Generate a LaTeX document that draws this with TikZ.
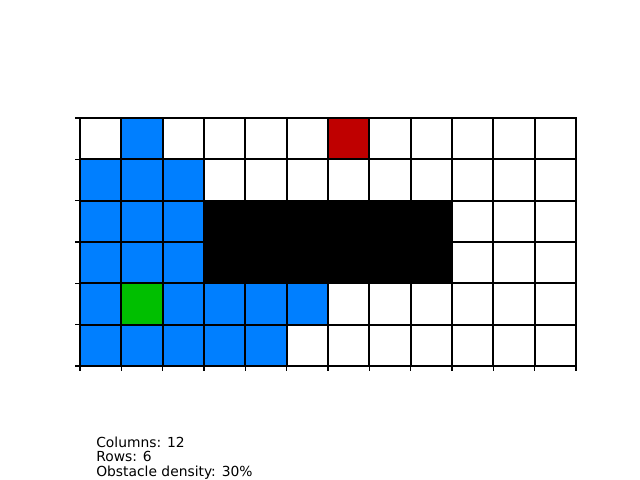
\documentclass[tikz,border=0pt]{standalone}
\usepackage{fontspec}
\setmainfont{DejaVu Sans}
\usetikzlibrary{positioning}

\definecolor{freeblue}{RGB}{0,127,255}
\definecolor{startgreen}{RGB}{0,191,0}
\definecolor{goalred}{RGB}{191,0,0}

\begin{document}
\begin{tikzpicture}[
    x=0.01in, y=-0.01in,
    cell/.style={draw, line width=1.3pt, minimum size=0.41333in, inner sep=0pt, outer sep=0pt},
    tick/.style={line width=0.8pt},
    info/.style={anchor=north west, align=left, inner sep=0pt, font=\fontsize{10}{10.6}\selectfont}
]
    \useasboundingbox (0,0) rectangle (640,480);
    % coloured cells first, grid lines over them
    \foreach \r/\c in {0/1,1/0,1/1,1/2,2/0,2/1,2/2,3/0,3/1,3/2,4/0,4/2,4/3,4/4,4/5,5/0,5/1,5/2,5/3,5/4} {
        \fill[freeblue] (80+41.333*\c,118+41.333*\r) rectangle ++(41.333,41.333);
    }
    \foreach \r in {2,3} {
        \foreach \c in {3,...,8} {
            \fill[black] (80+41.333*\c,118+41.333*\r) rectangle ++(41.333,41.333);
        }
    }
    \fill[goalred] (80+41.333*6,118) rectangle ++(41.333,41.333);
    \fill[startgreen] (80+41.333*1,118+41.333*4) rectangle ++(41.333,41.333);
    \foreach \r in {0,...,5} {
        \foreach \c in {0,...,11} {
            \node[cell] (c\r\c) at (100.667+41.333*\c,138.667+41.333*\r) {};
        }
    }
    % axis ticks
    \foreach \r in {0,...,6} {
        \draw[tick] (80,118+41.333*\r) -- ++(-4.9,0);
    }
    \foreach \c in {0,...,12} {
        \draw[tick] (80+41.333*\c,366) -- ++(0,4.9);
    }
    \node[info] (stats) at (96,436.5) {Columns: 12\\Rows: 6\\Obstacle density: 30\%};
\end{tikzpicture}
\end{document}
